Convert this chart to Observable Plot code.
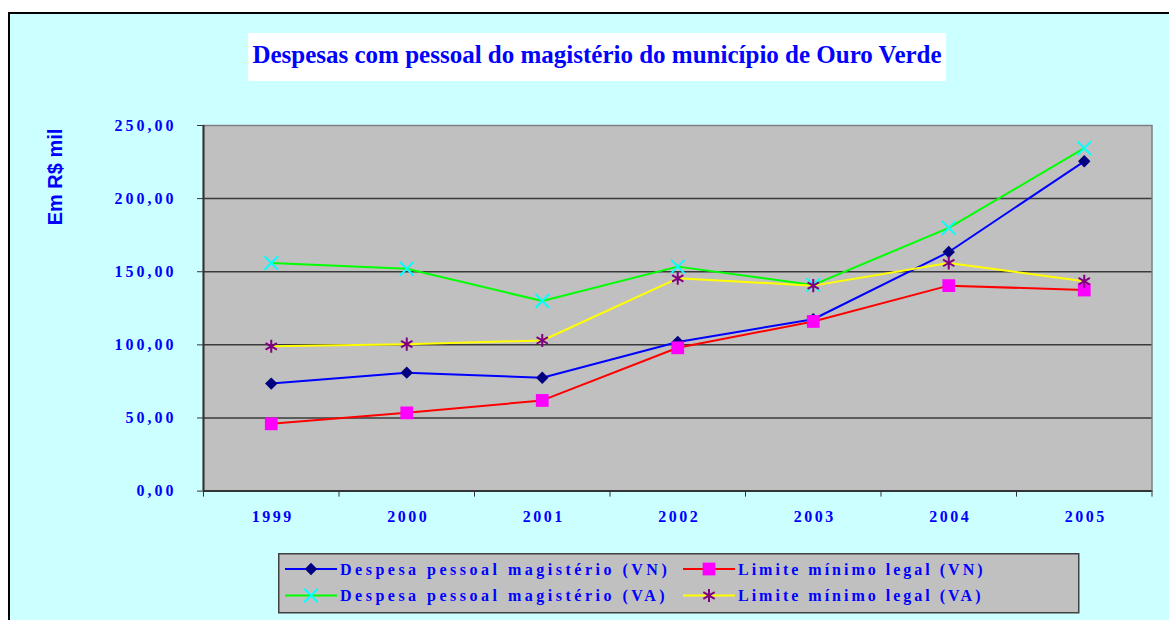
<!DOCTYPE html>
<html>
<head>
<meta charset="utf-8">
<script src="https://cdn.jsdelivr.net/npm/d3@7"></script>
<script src="https://cdn.jsdelivr.net/npm/@observablehq/plot@0.6"></script>
<style>
  html, body { margin: 0; padding: 0; background: #ffffff; width: 1169px; height: 620px; overflow: hidden; position: relative; }
  #frame { position: absolute; left: 8px; top: 12px; width: 1300px; height: 800px; border-left: 2px solid #000; border-top: 2px solid #000; background: #CCFFFF; box-sizing: border-box; }
  #chart { position: absolute; left: 0; top: 0; }
  #title { position: absolute; left: 248px; top: 33px; width: 698px; height: 48px; background: #ffffff; text-align: center;
           font: bold 25px "Liberation Serif", "Times New Roman", serif; line-height: 44px; color: #0000FF; white-space: nowrap; }
  #ytitle { position: absolute; left: 55px; top: 177px; transform: translate(-50%, -50%) rotate(-90deg);
            font: bold 20px "Liberation Sans", Arial, sans-serif; color: #0000FF; white-space: nowrap; }
  #legend { position: absolute; left: 278px; top: 553px; }
  #chart g[aria-label="y-axis tick label"] text { letter-spacing: 3px; }
  #chart g[aria-label="x-axis tick label"] text { letter-spacing: 2.5px; }
</style>
</head>
<body>
<div id="frame"></div>
<div id="chart"></div>
<div id="title">Despesas com pessoal do magistério do município de Ouro Verde</div>
<div id="ytitle">Em R$ mil</div>
<div id="legend"></div>
<script>
// ---- data ----
const years = [1999, 2000, 2001, 2002, 2003, 2004, 2005];
const despesaVN = [73.5, 81, 77.5, 102, 117.5, 163.5, 225.5];
const limiteVN  = [46, 53.5, 62, 98, 116, 140.5, 137.5];
const despesaVA = [156, 152, 130, 153.5, 141, 180, 234.5];
const limiteVA  = [99, 100.5, 103, 145.5, 140.5, 156, 143.5];
const seriesNames = [
  "Despesa pessoal magistério (VN)",
  "Limite mínimo legal (VN)",
  "Despesa pessoal magistério (VA)",
  "Limite mínimo legal (VA)"
];
const yTicks = [0, 50, 100, 150, 200, 250];

// ---- styles ----
const styles = [
  {line: "#0000FF", symbol: "diamond2", fill: "#000080", stroke: "none", r: 5.6, sw: 0},
  {line: "#FF0000", symbol: "square", fill: "#FF00FF", stroke: "none", r: 7.2, sw: 0},
  {line: "#00FF00", symbol: "times", fill: "none", stroke: "#00FFFF", r: 6.2, sw: 2},
  {line: "#FFFF00", symbol: "asterisk", fill: "none", stroke: "#800080", r: 6.2, sw: 2}
];
const seriesValues = [despesaVN, limiteVN, despesaVA, limiteVA];
const tables = seriesValues.map((vals, k) => years.map((year, i) => ({year, value: vals[i], series: seriesNames[k]})));

const fmt = d => d.toFixed(2).replace(".", ",");
const bounds = years.map(y => y - 0.5).concat([years[years.length - 1] + 0.5]);

const seriesMarks = [];
tables.forEach((rows, k) => {
  const s = styles[k];
  seriesMarks.push(Plot.line(rows, {x: "year", y: "value", stroke: s.line, strokeWidth: 2}));
  seriesMarks.push(Plot.dot(rows, {x: "year", y: "value", symbol: s.symbol, fill: s.fill, stroke: s.stroke, strokeWidth: s.sw, r: s.r}));
});

const chart = Plot.plot({
  width: 1169,
  height: 620,
  marginLeft: 203,
  marginRight: 17.5,
  marginTop: 125,
  marginBottom: 129.4,
  style: {background: "transparent", overflow: "visible", fontFamily: "'Liberation Serif', serif"},
  x: {type: "linear", domain: [bounds[0], bounds[bounds.length - 1]], label: null},
  y: {domain: [0, 250], label: null},
  marks: [
    Plot.frame({fill: "#C0C0C0", stroke: "#808080", strokeWidth: 1.5}),
    Plot.ruleY(yTicks.slice(1, -1), {stroke: "#3a3a3a", strokeWidth: 1.5}),
    Plot.ruleX([bounds[0]], {stroke: "#333333", strokeWidth: 2}),
    Plot.ruleY([0], {stroke: "#333333", strokeWidth: 2}),
    Plot.axisY(yTicks, {tickSize: 6, tickPadding: 21, tickFormat: fmt, fill: "#0000FF", stroke: "#333333",
      fontWeight: "bold", fontSize: 16, fontFamily: "Liberation Serif", label: null}),
    Plot.axisX(bounds, {tickSize: 6, tickFormat: () => "", stroke: "#333333", label: null}),
    Plot.axisX(years, {tickSize: 0, tickPadding: 20, tickFormat: d => String(d), fill: "#0000FF",
      fontWeight: "bold", fontSize: 16, fontFamily: "Liberation Serif", label: null, dx: 1.5}),
    ...seriesMarks
  ]
});
document.getElementById("chart").appendChild(chart);

// ---- legend ----
const symMap = {diamond2: d3.symbolDiamond2, square: d3.symbolSquare, times: d3.symbolTimes, asterisk: d3.symbolAsterisk};
const lw = 800, lh = 59;
const leg = d3.select("#legend").append("svg").attr("width", lw + 2).attr("height", lh + 2)
  .style("overflow", "visible");
leg.append("rect").attr("x", 0.75).attr("y", 0.75).attr("width", lw).attr("height", lh)
  .attr("fill", "#C0C0C0").attr("stroke", "#404040").attr("stroke-width", 1.5);
const colX = [7, 405];
const colSpacing = ["3.5px", "3px"];
const rowY = [16, 42.5];
seriesNames.forEach((name, k) => {
  const s = styles[k];
  const cx = colX[k % 2], cy = rowY[Math.floor(k / 2)];
  const g = leg.append("g");
  g.append("line").attr("x1", cx).attr("x2", cx + 52).attr("y1", cy).attr("y2", cy)
    .attr("stroke", s.line).attr("stroke-width", 2);
  g.append("path").attr("transform", `translate(${cx + 26},${cy})`)
    .attr("d", d3.symbol(symMap[s.symbol], Math.PI * s.r * s.r)())
    .attr("fill", s.fill).attr("stroke", s.stroke).attr("stroke-width", s.sw);
  g.append("text").attr("x", cx + 55).attr("y", cy).attr("dy", "0.35em")
    .attr("fill", "#0000FF").attr("font-family", "Liberation Serif, serif").attr("font-weight", "bold")
    .attr("font-size", 16).attr("letter-spacing", colSpacing[k % 2]).text(name);
});
</script>
</body>
</html>
